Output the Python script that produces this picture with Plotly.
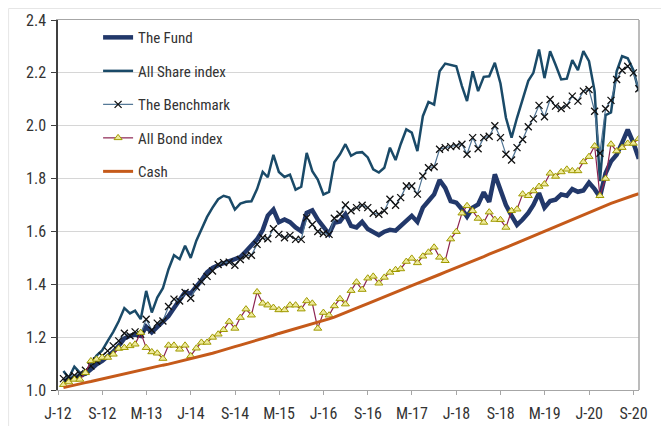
import pandas as pd
import plotly.graph_objects as go

# Month-end dates Jan-2012 .. Sep-2020
dates = pd.date_range("2012-01-31", periods=105, freq="ME")

fund = [1.035, 1.04, 1.048, 1.055, 1.062, 1.078, 1.097, 1.11, 1.125, 1.145,
        1.167, 1.195, 1.205, 1.21, 1.205, 1.24, 1.218, 1.24, 1.258, 1.28,
        1.31, 1.338, 1.37, 1.365, 1.39, 1.415, 1.445, 1.462, 1.472, 1.48,
        1.486, 1.493, 1.503, 1.525, 1.55, 1.57, 1.605, 1.66, 1.683, 1.635,
        1.645, 1.635, 1.615, 1.601, 1.67, 1.68, 1.645, 1.614, 1.59, 1.633,
        1.638, 1.665, 1.621, 1.615, 1.636, 1.609, 1.596, 1.586, 1.599, 1.606,
        1.603, 1.621, 1.64, 1.659, 1.636, 1.69, 1.715, 1.74, 1.794, 1.765,
        1.715, 1.709, 1.684, 1.656, 1.69, 1.702, 1.748, 1.712, 1.816, 1.76,
        1.70, 1.66, 1.625, 1.645, 1.67, 1.70, 1.745, 1.69, 1.715, 1.72,
        1.74, 1.735, 1.76, 1.75, 1.755, 1.785, 1.76, 1.73, 1.82, 1.865,
        1.89, 1.935, 1.985, 1.935, 1.875]

all_share = [1.072, 1.045, 1.088, 1.066, 1.06, 1.10, 1.13, 1.15, 1.185, 1.22,
             1.26, 1.31, 1.29, 1.30, 1.268, 1.375, 1.293, 1.35, 1.385, 1.457,
             1.51, 1.495, 1.546, 1.50, 1.565, 1.605, 1.655, 1.69, 1.722, 1.735,
             1.728, 1.683, 1.705, 1.712, 1.714, 1.76, 1.825, 1.805, 1.89, 1.825,
             1.806, 1.815, 1.758, 1.769, 1.897, 1.828, 1.796, 1.74, 1.75, 1.862,
             1.892, 1.93, 1.886, 1.898, 1.90, 1.88, 1.835, 1.823, 1.841, 1.917,
             1.87, 1.93, 1.986, 1.974, 1.904, 2.036, 2.09, 2.08, 2.206, 2.235,
             2.231, 2.225, 2.15, 2.093, 2.206, 2.131, 2.185, 2.187, 2.238, 2.16,
             2.03, 1.955, 2.03, 2.10, 2.17, 2.20, 2.288, 2.18, 2.282, 2.231,
             2.175, 2.178, 2.248, 2.21, 2.282, 2.244, 2.13, 1.79, 2.04, 2.05,
             2.206, 2.263, 2.255, 2.21, 2.13]

benchmark = [1.043, 1.05, 1.055, 1.062, 1.075, 1.091, 1.11, 1.129, 1.148, 1.167,
             1.186, 1.215, 1.205, 1.22, 1.211, 1.268, 1.227, 1.253, 1.261, 1.316,
             1.344, 1.337, 1.369, 1.347, 1.39, 1.41, 1.43, 1.45, 1.475, 1.482,
             1.484, 1.472, 1.494, 1.507, 1.51, 1.551, 1.576, 1.572, 1.61, 1.589,
             1.576, 1.585, 1.57, 1.57, 1.652, 1.626, 1.60, 1.592, 1.589, 1.65,
             1.665, 1.70, 1.678, 1.69, 1.699, 1.69, 1.669, 1.665, 1.678, 1.722,
             1.699, 1.728, 1.772, 1.772, 1.741, 1.81, 1.841, 1.845, 1.911, 1.917,
             1.921, 1.923, 1.93, 1.892, 1.955, 1.913, 1.955, 1.96, 2.0, 1.955,
             1.892, 1.87, 1.917, 1.948, 1.996, 2.026, 2.077, 2.034, 2.099, 2.074,
             2.065, 2.077, 2.112, 2.093, 2.131, 2.137, 2.055, 1.896, 2.064, 2.096,
             2.175, 2.21, 2.225, 2.20, 2.14]

all_bond = [1.02, 1.03, 1.04, 1.04, 1.065, 1.11, 1.116, 1.123, 1.123, 1.135,
            1.157, 1.16, 1.167, 1.173, 1.217, 1.16, 1.144, 1.139, 1.119, 1.169,
            1.169, 1.154, 1.169, 1.129, 1.158, 1.18, 1.18, 1.199, 1.211, 1.228,
            1.259, 1.233, 1.274, 1.306, 1.283, 1.371, 1.328, 1.321, 1.312, 1.303,
            1.303, 1.321, 1.321, 1.306, 1.337, 1.328, 1.233, 1.293, 1.283, 1.318,
            1.345, 1.325, 1.376, 1.408, 1.38, 1.423, 1.43, 1.404, 1.426, 1.445,
            1.455, 1.458, 1.486, 1.498, 1.481, 1.506, 1.521, 1.54, 1.502, 1.489,
            1.571, 1.599, 1.669, 1.697, 1.678, 1.649, 1.634, 1.673, 1.645, 1.644,
            1.615, 1.678, 1.684, 1.741, 1.735, 1.753, 1.77, 1.779, 1.82, 1.808,
            1.825, 1.835, 1.829, 1.829, 1.863, 1.883, 1.923, 1.735, 1.80, 1.93,
            1.904, 1.917, 1.933, 1.933, 1.951]

cash = [1.009, 1.014, 1.018, 1.023, 1.028, 1.032, 1.037, 1.042, 1.047, 1.051,
        1.056, 1.061, 1.065, 1.070, 1.075, 1.079, 1.084, 1.089, 1.094, 1.098,
        1.103, 1.108, 1.112, 1.117, 1.122, 1.127, 1.133, 1.139, 1.145, 1.152,
        1.158, 1.164, 1.170, 1.176, 1.183, 1.189, 1.195, 1.201, 1.207, 1.214,
        1.220, 1.226, 1.232, 1.238, 1.245, 1.251, 1.257, 1.263, 1.269, 1.276,
        1.284, 1.293, 1.301, 1.310, 1.318, 1.327, 1.335, 1.344, 1.352, 1.361,
        1.369, 1.378, 1.386, 1.395, 1.403, 1.412, 1.420, 1.429, 1.437, 1.446,
        1.454, 1.463, 1.471, 1.480, 1.488, 1.497, 1.505, 1.514, 1.522, 1.531,
        1.540, 1.548, 1.557, 1.566, 1.575, 1.584, 1.592, 1.601, 1.610, 1.619,
        1.628, 1.636, 1.645, 1.654, 1.663, 1.672, 1.680, 1.689, 1.698, 1.706,
        1.714, 1.722, 1.729, 1.736, 1.743]

tick_dates = ["2012-01-01", "2012-09-01", "2013-05-01", "2014-01-01", "2014-09-01",
              "2015-05-01", "2016-01-01", "2016-09-01", "2017-05-01", "2018-01-01",
              "2018-09-01", "2019-05-01", "2020-01-01", "2020-09-01"]
tick_labels = ["J-12", "S-12", "M-13", "J-14", "S-14", "M-15", "J-16", "S-16",
               "M-17", "J-18", "S-18", "M-19", "J-20", "S-20"]

FONT = "Roboto Condensed, Liberation Sans Narrow, Arial Narrow, sans-serif"

fig = go.Figure()
fig.add_trace(go.Scatter(x=dates, y=fund, name="The Fund", mode="lines",
                         line=dict(color="#22386A", width=4.5), legendgroup="a"))
fig.add_trace(go.Scatter(x=dates, y=all_share, name="All Share index", mode="lines",
                         line=dict(color="#1A4A68", width=2.5), legendgroup="b"))
fig.add_trace(go.Scatter(x=dates, y=benchmark, name="The Benchmark", mode="lines+markers",
                         line=dict(color="#4E7393", width=1.2),
                         marker=dict(symbol="x-thin", size=7, color="#111111",
                                     line=dict(color="#111111", width=1.3)),
                         legendgroup="c"))
fig.add_trace(go.Scatter(x=dates, y=all_bond, name="All Bond index", mode="lines+markers",
                         line=dict(color="#8C2350", width=1.2),
                         marker=dict(symbol="triangle-up", size=7, color="#EEEA9A",
                                     line=dict(color="#A09A00", width=1)),
                         legendgroup="d"))
fig.add_trace(go.Scatter(x=dates, y=cash, name="Cash", mode="lines",
                         line=dict(color="#C55A1A", width=3), legendgroup="e"))

# The page body adds an 8px offset; the figure is sized to compensate.
fig.update_layout(
    width=661, height=418,
    margin=dict(l=50, r=30, t=12, b=36, autoexpand=False),
    paper_bgcolor="white", plot_bgcolor="white",
    font=dict(family=FONT, size=16, color="#333333"),
    showlegend=True,
    legend=dict(x=0.069, y=0.997, xanchor="left", yanchor="top",
                bgcolor="rgba(0,0,0,0)", font=dict(size=15, color="#333333"),
                tracegroupgap=11, itemwidth=30),
    xaxis=dict(type="date", range=["2012-01-01", "2020-10-01"],
               tickvals=tick_dates, ticktext=tick_labels, tickangle=0,
               showgrid=False, zeroline=False, automargin=False,
               showline=True, linecolor="#A6A6A6", linewidth=1, mirror=True,
               ticks="outside", ticklen=4, tickcolor="#A6A6A6",
               ticklabelstandoff=5, tickfont=dict(size=16)),
    yaxis=dict(range=[1.0, 2.4], dtick=0.2, tick0=1.0, tickformat=".1f",
               showgrid=True, gridcolor="#D6D6D6", gridwidth=1, automargin=False,
               zeroline=False, showline=True, linecolor="#404040", linewidth=1.5,
               ticks="outside", ticklen=5, tickcolor="#404040",
               ticklabelstandoff=2, tickfont=dict(size=16)),
    shapes=[
        dict(type="line", xref="paper", yref="paper", x0=1, x1=1, y0=0, y1=1,
             line=dict(color="#A6A6A6", width=1.5)),
        dict(type="rect", xref="paper", yref="paper", x0=-0.085, x1=1.043,
             y0=-0.2, y1=1.031, line=dict(color="#E6E6E6", width=1)),
        dict(type="rect", xref="paper", yref="paper", x0=1.045, x1=1.06,
             y0=-0.2, y1=1.031, line=dict(width=0), fillcolor="#EFEFEF"),
    ],
)

fig.write_html("out.html")
